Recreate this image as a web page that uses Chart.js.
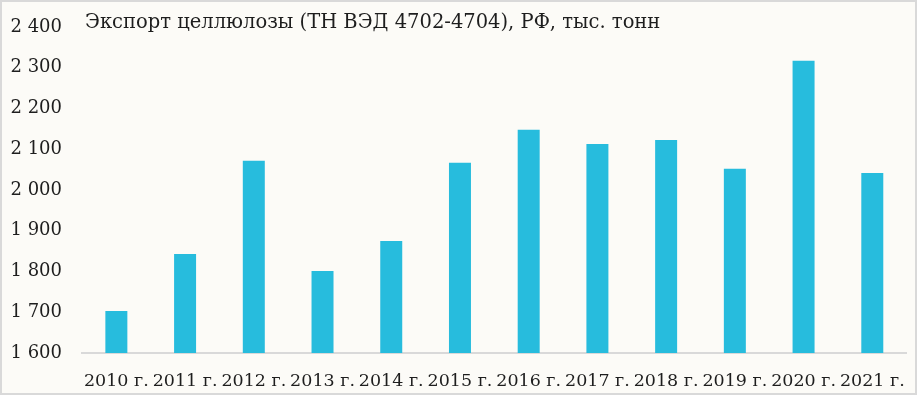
<!DOCTYPE html>
<html>
<head>
<meta charset="utf-8">
<script src="https://cdn.jsdelivr.net/npm/chart.js@4/dist/chart.umd.min.js"></script>
<style>
    body { margin: 0; }
    #box {
        width: 917px;
        height: 395px;
        box-sizing: border-box;
        border: 2px solid #d9d9d9;
        background: #fcfbf7;
    }
    #box canvas { display: block; }
</style>
</head>
<body>
<div id="box"><canvas id="grafico" width="913" height="391"></canvas></div>
<script>
const anos = ['2010 г.', '2011 г.', '2012 г.', '2013 г.', '2014 г.', '2015 г.',
    '2016 г.', '2017 г.', '2018 г.', '2019 г.', '2020 г.', '2021 г.'];
const exportacao = [1703, 1843, 2072, 1801, 1875, 2067, 2148, 2113, 2123, 2052, 2317, 2042];
const eixoMin = 1600;
const eixoMax = 2400;
const eixoPasso = 100;
const titulo = 'Экспорт целлюлозы (ТН ВЭД 4702-4704), РФ, тыс. тонн';

const fonte = 'DejaVu Serif';
const corTexto = '#1e1e1e';

function formatarMilhar(v) {
    return String(v).replace(/\B(?=(\d{3})+(?!\d))/g, ' ');
}

// titulo desenhado dentro da area do grafico
const tituloInterno = {
    id: 'tituloInterno',
    afterDraw(chart) {
        const ctx = chart.ctx;
        ctx.save();
        ctx.font = '19.5px "' + fonte + '"';
        ctx.fillStyle = corTexto;
        ctx.textBaseline = 'middle';
        ctx.textAlign = 'left';
        ctx.fillText(titulo, chart.chartArea.left + 3, 21);
        ctx.restore();
    }
};

const ctx = document.getElementById('grafico').getContext('2d');
new Chart(ctx, {
    type: 'bar',
    data: {
        labels: anos,
        datasets: [{
            data: exportacao,
            backgroundColor: '#27bcdd',
            categoryPercentage: 1,
            barPercentage: 0.32
        }]
    },
    options: {
        responsive: false,
        animation: false,
        layout: { padding: { top: 25, right: 7, left: 0, bottom: 0 } },
        plugins: {
            legend: { display: false },
            tooltip: { enabled: false }
        },
        scales: {
            x: {
                grid: { display: false },
                border: { display: true, color: '#d9d9d9', width: 2 },
                ticks: {
                    color: corTexto,
                    font: { family: fonte, size: 17.5 },
                    autoSkip: false,
                    maxRotation: 0,
                    minRotation: 0,
                    padding: 10
                },
                afterFit: s => { s.height = 40; }
            },
            y: {
                min: eixoMin,
                max: eixoMax,
                // marcas invisiveis so para afastar os rotulos do eixo
                // (o padding dos ticks empurraria o topo da area para baixo)
                grid: {
                    display: true,
                    drawOnChartArea: false,
                    drawTicks: true,
                    tickLength: 20,
                    color: 'rgba(0,0,0,0)'
                },
                border: { display: false },
                ticks: {
                    stepSize: eixoPasso,
                    color: corTexto,
                    font: { family: fonte, size: 18 },
                    padding: 0,
                    callback: v => formatarMilhar(v)
                },
                afterFit: s => { s.width = 80; }
            }
        }
    },
    plugins: [tituloInterno]
});
</script>
</body>
</html>
